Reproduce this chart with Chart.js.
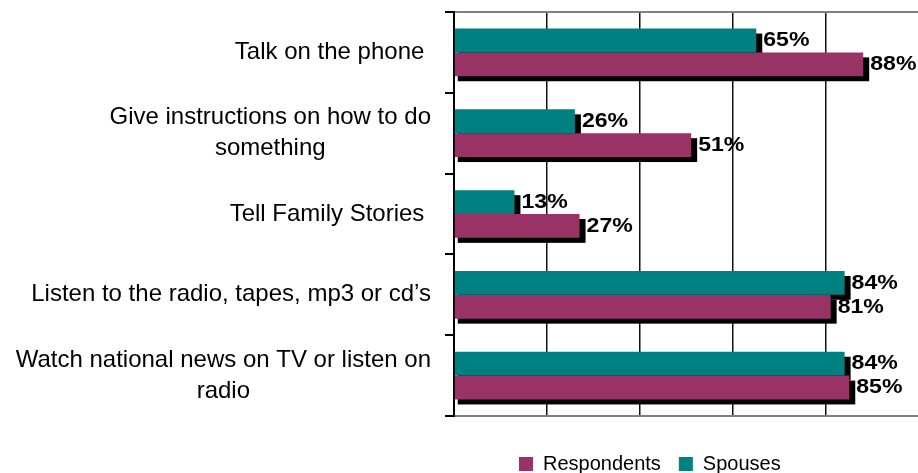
<!DOCTYPE html>
<html>
<head>
<meta charset="utf-8">
<script src="https://cdn.jsdelivr.net/npm/chart.js@4.4.0/dist/chart.umd.min.js"></script>
<style>
html, body { margin:0; padding:0; background:#fff; overflow:hidden; }
#wrap { width:920px; height:484px; }
</style>
</head>
<body>
<div id="wrap"><canvas id="activity_chart" width="920" height="484"></canvas></div>
<script>
// each entry is one category, split into its printed lines
const activities = [
    ["Talk on the phone "],
    ["Give instructions on how to do", "something"],
    ["Tell Family Stories "],
    ["Listen to the radio, tapes, mp3 or cd’s"],
    ["Watch national news on TV or listen on", "radio"]
];
const respondents = [88, 51, 27, 81, 85];
const spouses = [65, 26, 13, 84, 84];
const xTicks = [0, 20, 40, 60, 80, 100];

const fontFamily = "'Liberation Sans', Arial, sans-serif";

// black drop shadow under every bar
const barShadow = {
    id: 'barShadow',
    beforeDatasetsDraw(chart) {
        let ctx = chart.ctx;
        ctx.save();
        ctx.fillStyle = '#000';
        chart.data.datasets.forEach(function(ds, i) {
            chart.getDatasetMeta(i).data.forEach(function(bar) {
                let p = bar.getProps(['x', 'y', 'base', 'height'], true);
                ctx.fillRect(p.base + 3, p.y - p.height / 2 + 5, p.x - p.base + 3, p.height);
            });
        });
        ctx.restore();
    }
};

// bold percentage next to each bar (slightly widened type)
const valueLabels = {
    id: 'valueLabels',
    afterDatasetsDraw(chart) {
        let ctx = chart.ctx;
        chart.data.datasets.forEach(function(ds, i) {
            chart.getDatasetMeta(i).data.forEach(function(bar, j) {
                ctx.save();
                ctx.fillStyle = '#000';
                ctx.font = 'bold 21px ' + fontFamily;
                ctx.textAlign = 'left';
                ctx.textBaseline = 'middle';
                ctx.translate(bar.x + 7, bar.y);
                ctx.scale(1.1, 1);
                ctx.fillText(ds.data[j] + '%', 0, 0);
                ctx.restore();
            });
        });
    }
};

// category names: block right aligned to the axis, lines centred in the block
const categoryLabels = {
    id: 'categoryLabels',
    afterDraw(chart) {
        let ctx = chart.ctx;
        let yScale = chart.scales.y;
        let lineH = 31;
        ctx.save();
        ctx.fillStyle = '#000';
        ctx.font = '24px ' + fontFamily;
        ctx.textAlign = 'center';
        ctx.textBaseline = 'middle';
        activities.forEach(function(lines, i) {
            let py = yScale.getPixelForTick(i);
            let blockW = Math.max.apply(null, lines.map(function(l) { return ctx.measureText(l).width; }));
            let cx = 431 - blockW / 2;
            let y0 = py - (lines.length - 1) * lineH / 2;
            lines.forEach(function(l, k) {
                ctx.fillText(l, cx, y0 + k * lineH);
            });
        });
        ctx.restore();
    }
};

// push the legend towards the right under the plot
const legendShift = {
    id: 'legendShift',
    afterLayout(chart) {
        chart.legend.left = 501;
        chart.legend.right = 918;
    }
};

let ctx = document.getElementById('activity_chart');
let activityChart = new Chart(ctx, {
    type: 'bar',
    plugins: [barShadow, valueLabels, categoryLabels, legendShift],
    data: {
        labels: activities,
        datasets: [{
            label: 'Spouses',
            data: spouses,
            backgroundColor: '#008080',
            categoryPercentage: 0.59,
            barPercentage: 1
        }, {
            label: 'Respondents',
            data: respondents,
            backgroundColor: '#993366',
            categoryPercentage: 0.59,
            barPercentage: 1
        }]
    },
    options: {
        indexAxis: 'y',
        responsive: false,
        animation: false,
        layout: { padding: { top: 12, right: 1 } },
        plugins: {
            legend: {
                position: 'bottom',
                align: 'start',
                reverse: true,
                labels: {
                    boxWidth: 14,
                    boxHeight: 14,
                    padding: 18,
                    color: '#000',
                    font: { family: fontFamily, size: 20 }
                }
            },
            tooltip: { enabled: false }
        },
        scales: {
            x: {
                min: xTicks[0],
                max: xTicks[xTicks.length - 1],
                ticks: { stepSize: xTicks[1] - xTicks[0], display: false },
                grid: { color: '#111', lineWidth: 1.5, drawTicks: false },
                border: { color: '#808080', width: 2 },
                afterFit: function(s) { s.height = 20; }
            },
            y: {
                z: 1,
                ticks: { display: false },
                grid: {
                    offset: true,
                    lineWidth: 2,
                    tickLength: 9,
                    tickColor: '#000',
                    color: function(c) {
                        return (c.index === 0 || c.index === undefined) ? '#808080' : 'rgba(0,0,0,0)';
                    }
                },
                border: { color: '#000', width: 2 },
                afterFit: function(s) { s.width = 454; }
            }
        }
    }
});
</script>
</body>
</html>
